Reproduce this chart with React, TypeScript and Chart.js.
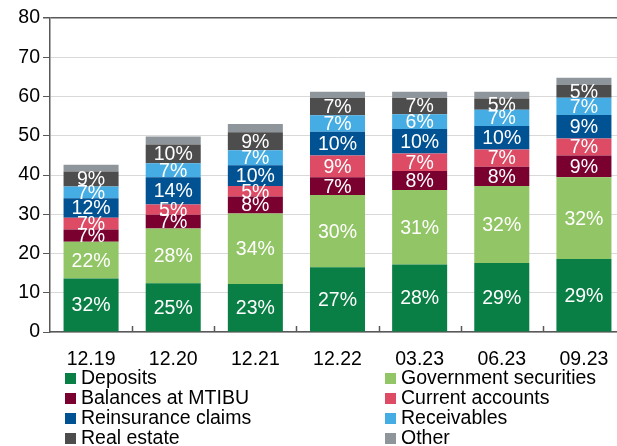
import React, { useEffect, useRef } from 'react';
import { Chart, registerables } from 'chart.js';

Chart.register(...registerables);

const categories = ['12.19', '12.20', '12.21', '12.22', '03.23', '06.23', '09.23'];
const deposits = [13.6, 12.4, 12.2, 16.5, 17.2, 17.6, 18.6];
const govSecurities = [9.4, 14.0, 18.0, 18.4, 19.0, 19.6, 20.8];
const balancesMtibu = [3.1, 3.5, 4.3, 4.5, 4.8, 4.9, 5.6];
const currentAccounts = [3.0, 2.6, 2.7, 5.6, 4.5, 4.4, 4.3];
const reinsuranceClaims = [5.0, 6.9, 5.3, 6.0, 6.2, 6.0, 6.0];
const receivables = [3.0, 3.6, 3.8, 4.2, 3.8, 4.1, 4.4];
const realEstate = [3.8, 4.8, 4.6, 4.4, 4.2, 2.9, 3.2];
const other = [1.7, 2.0, 2.1, 1.6, 1.5, 1.7, 1.9];
const yTicks = [0, 10, 20, 30, 40, 50, 60, 70, 80];

const FONT = '"Liberation Sans", Arial, sans-serif';
const FS = 19.5;
const AXIS = '#595959';
const GRID = '#d9d9d9';

const seriesDefs = [
  { label: 'Deposits', data: deposits, color: '#0a7f45', pct: true },
  { label: 'Government securities', data: govSecurities, color: '#92c565', pct: true },
  { label: 'Balances at MTIBU', data: balancesMtibu, color: '#7a0030', pct: true },
  { label: 'Current accounts', data: currentAccounts, color: '#dd4b65', pct: true },
  { label: 'Reinsurance claims', data: reinsuranceClaims, color: '#005293', pct: true },
  { label: 'Receivables', data: receivables, color: '#45ade4', pct: true },
  { label: 'Real estate', data: realEstate, color: '#4d4d4d', pct: true },
  { label: 'Other', data: other, color: '#8f969b', pct: false },
];

const totals = categories.map((_, i) => seriesDefs.reduce((s, d) => s + d.data[i], 0));

const labelPlugin = {
  id: 'segLabels',
  afterDatasetsDraw(chart: any) {
    const ctx = chart.ctx;
    ctx.save();
    ctx.font = `${FS}px ${FONT}`;
    ctx.fillStyle = '#ffffff';
    ctx.textAlign = 'center';
    ctx.textBaseline = 'middle';
    chart.data.datasets.forEach((ds: any, di: number) => {
      if (!seriesDefs[di].pct) return;
      const meta = chart.getDatasetMeta(di);
      meta.data.forEach((el: any, i: number) => {
        const v = ds.data[i];
        const txt = Math.round((v / totals[i]) * 100) + '%';
        ctx.fillText(txt, el.x, (el.y + el.base) / 2 + 1);
      });
    });
    ctx.restore();
  },
};

const xTickPlugin = {
  id: 'xInnerTicks',
  afterDraw(chart: any) {
    const { ctx, chartArea } = chart;
    const n = categories.length;
    const w = (chartArea.right - chartArea.left) / n;
    ctx.save();
    ctx.strokeStyle = AXIS;
    ctx.lineWidth = 1.5;
    for (let i = 1; i < n; i++) {
      const x = Math.round(chartArea.left + i * w) + 0.5;
      ctx.beginPath();
      ctx.moveTo(x, chartArea.bottom);
      ctx.lineTo(x, chartArea.bottom - 6);
      ctx.stroke();
    }
    ctx.restore();
  },
};

const legendPlugin = {
  id: 'twoColLegend',
  afterDraw(chart: any) {
    const ctx = chart.ctx;
    const colX = [65, 385];
    const rowY = [378, 398, 418, 438];
    ctx.save();
    ctx.font = `${FS}px ${FONT}`;
    ctx.textBaseline = 'middle';
    ctx.textAlign = 'left';
    chart.data.datasets.forEach((ds: any, i: number) => {
      const x = colX[i % 2];
      const y = rowY[Math.floor(i / 2)];
      ctx.fillStyle = ds.backgroundColor;
      ctx.fillRect(x, y - 5, 11, 11);
      ctx.fillStyle = '#000000';
      ctx.fillText(ds.label, x + 16, y + 1);
    });
    ctx.restore();
  },
};

export default function App() {
  const ref = useRef<HTMLCanvasElement>(null);
  useEffect(() => {
    if (!ref.current) return;
    const chart = new Chart(ref.current, {
      type: 'bar',
      data: {
        labels: categories,
        datasets: seriesDefs.map((d) => ({
          label: d.label,
          data: d.data,
          backgroundColor: d.color,
          borderWidth: 0,
          barPercentage: 0.67,
          categoryPercentage: 1,
        })),
      },
      options: {
        responsive: false,
        animation: false,
        devicePixelRatio: 1,
        layout: { padding: { top: 18, right: 15, left: 0, bottom: 0 } },
        plugins: { legend: { display: false }, tooltip: { enabled: false } },
        scales: {
          x: {
            stacked: true,
            grid: { display: false },
            border: { color: AXIS, width: 1.5 },
            ticks: { color: '#000', font: { family: FONT, size: FS }, padding: 8, maxRotation: 0 },
            afterFit: (s: any) => { s.height = 114; },
          },
          y: {
            stacked: true,
            min: 0,
            max: 80,
            afterBuildTicks: (s: any) => { s.ticks = yTicks.map((v) => ({ value: v })); },
            grid: {
              color: (c: any) => (c.tick && c.tick.value === 80 ? AXIS : GRID),
              lineWidth: (c: any) => (c.tick && c.tick.value === 80 ? 1.5 : 1),
              tickColor: AXIS,
              tickLength: 7,
            },
            border: { color: AXIS, width: 1.5 },
            ticks: { color: '#000', font: { family: FONT, size: FS }, padding: 3 },
            afterFit: (s: any) => { s.width = 50; },
          },
        },
      },
      plugins: [labelPlugin, xTickPlugin, legendPlugin],
    });
    return () => chart.destroy();
  }, []);
  return (
    <div style={{ position: 'fixed', left: 0, top: 0, width: 617, height: 446, overflow: 'hidden', background: '#fff' }}>
      <canvas ref={ref} width={640} height={446} style={{ display: 'block' }} />
    </div>
  );
}
